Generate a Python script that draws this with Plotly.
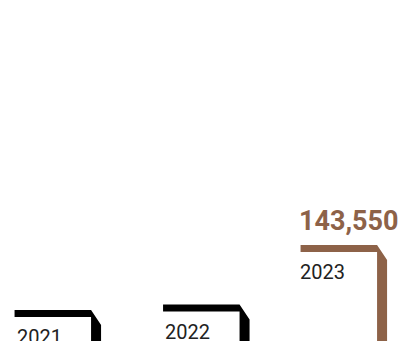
import plotly.graph_objects as go

# Yearly totals
years = ["2021", "2022", "2023"]
totals = [123050, 124800, 143550]
highlight_year = "2023"

BROWN = "#8d6248"
INK = "#000000"
LABEL_INK = "#222222"

W, H = 419, 341
X_RANGE = [-0.42, 2.51]
Y_RANGE = [113300, 220760]

# data units per screen pixel on each axis
dx = (X_RANGE[1] - X_RANGE[0]) / W
dy = (Y_RANGE[1] - Y_RANGE[0]) / H

# bracket geometry in pixels, relative to each year's slot centre
LEFT, CORNER, RIGHT = -43.5, 33.0, 43.0
TOP_T = 7      # thickness of the top stroke
BEVEL = 15     # drop of the bevelled outer corner
SLOT_NUDGE = [-2.0, 3.5, -2.0]   # small horizontal offsets per slot, px

fig = go.Figure()

for i, (yr, v) in enumerate(zip(years, totals)):
    color = BROWN if yr == highlight_year else INK
    c = i + SLOT_NUDGE[i] * dx
    xl, xc, xr = c + LEFT * dx, c + CORNER * dx, c + RIGHT * dx
    y_floor = Y_RANGE[0] - 20 * dy
    xs = [xl, xc, xr, xr, xc, xc, xl, xl]
    ys = [v, v, v - BEVEL * dy, y_floor, y_floor, v - TOP_T * dy, v - TOP_T * dy, v]
    fig.add_trace(go.Scatter(
        x=xs, y=ys, mode="lines", fill="toself", fillcolor=color,
        line=dict(width=0, color=color), hoverinfo="skip", showlegend=False,
    ))

    # year label under the top stroke
    fig.add_annotation(
        x=xl + (-3 if yr == highlight_year else 0) * dx, y=v,
        xref="x", yref="y", xanchor="left", yanchor="top",
        yshift=-(TOP_T + 6), showarrow=False,
        text=yr, font=dict(family="Roboto", size=20, color=LABEL_INK),
    )

    if yr == highlight_year:
        fig.add_annotation(
            x=xl - 4 * dx, y=v, xref="x", yref="y",
            xanchor="left", yanchor="bottom", yshift=6, showarrow=False,
            text=f"<b>{v:,}</b>",
            font=dict(family="Roboto", size=27, color=BROWN),
        )

fig.update_layout(
    width=W, height=H,
    margin=dict(l=0, r=0, t=0, b=0),
    paper_bgcolor="white", plot_bgcolor="white",
    xaxis=dict(range=X_RANGE, visible=False, fixedrange=True),
    yaxis=dict(range=Y_RANGE, visible=False, fixedrange=True),
    showlegend=False,
)

fig.write_html("out.html", config={"displayModeBar": False})
